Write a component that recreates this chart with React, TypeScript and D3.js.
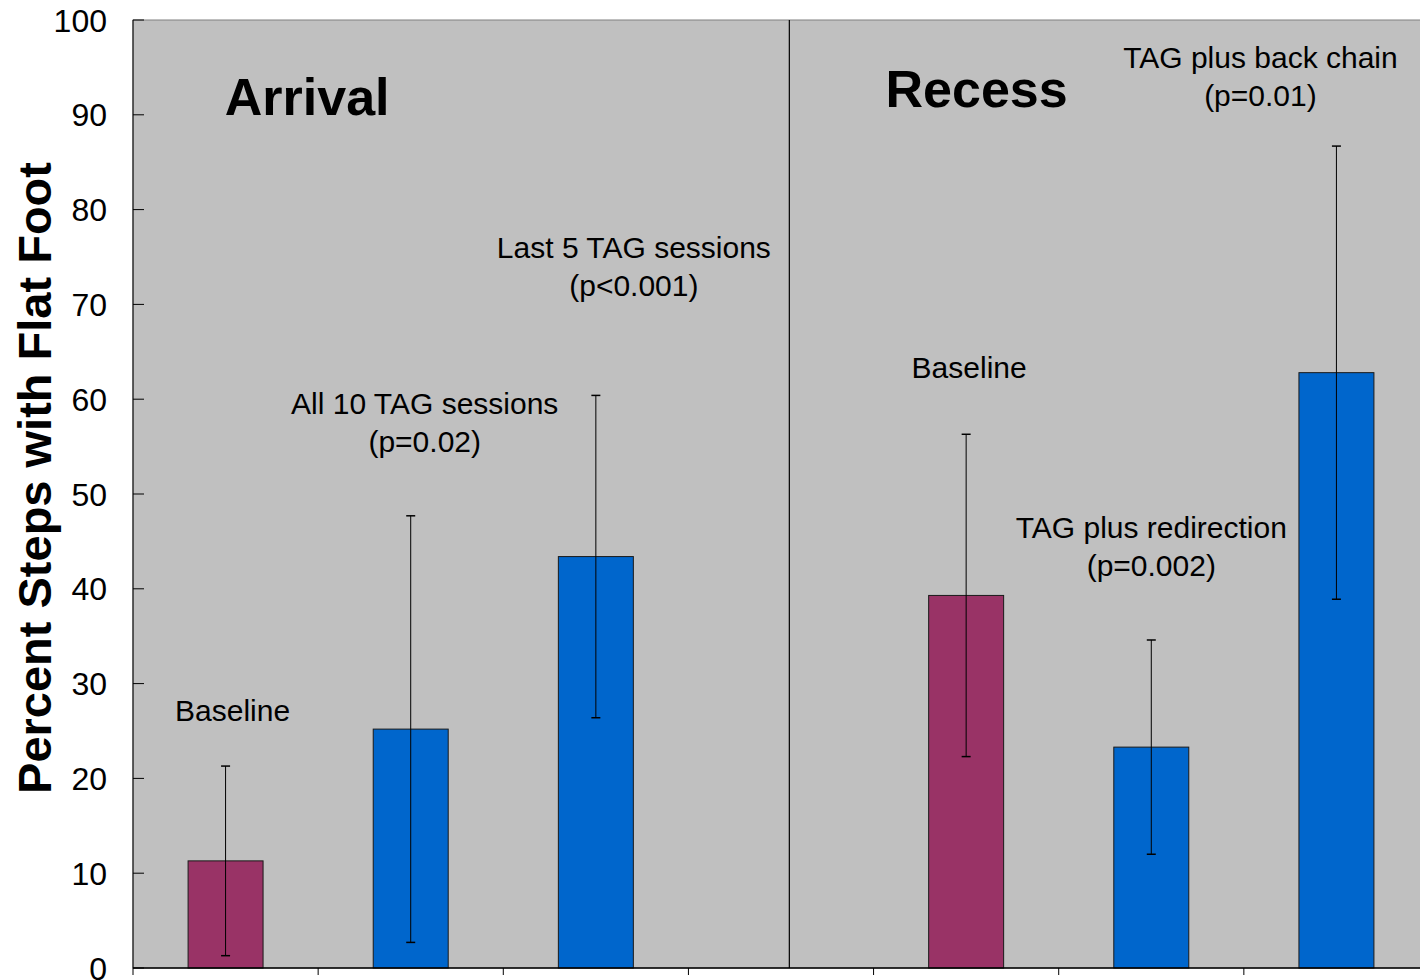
import React from "react";
import * as d3 from "d3";

const slots = ["arrBase", "arrAll10", "arrLast5", "gap", "recBase", "recRedir", "recBack"];
const barSlots = ["arrBase", "arrAll10", "arrLast5", "recBase", "recRedir", "recBack"];
const barValues = [11.3, 25.2, 43.4, 39.3, 23.3, 62.8];
const errValues = [10.0, 22.5, 17.0, 17.0, 11.3, 23.9];
const barIsBaseline = [true, false, false, true, false, false];
const yTicks = [0, 10, 20, 30, 40, 50, 60, 70, 80, 90, 100];
const labelLines = [
  ["Baseline"],
  ["All 10 TAG sessions", "(p=0.02)"],
  ["Last 5 TAG sessions", "(p<0.001)"],
  ["Baseline"],
  ["TAG plus redirection", "(p=0.002)"],
  ["TAG plus back chain", "(p=0.01)"],
];
const labelLevels = [26.05, 58.4, 74.9, 62.2, 45.4, 94.9];
const labelDx = [7, 14, 38, 3, 0, -76];
const yTitle = "Percent Steps with Flat Foot";

export default function App() {
  const left = 133, right = 1429, top = 20, bottom = 968;
  const x = d3.scaleBand<string>().domain(slots).range([left, right]).padding(0);
  const y = d3.scaleLinear().domain([0, 100]).range([bottom, top]);
  const bw = x.bandwidth() * 0.405;
  const font = "Arial, 'Liberation Sans', sans-serif";
  const dividerX = (x("gap") as number) + x.bandwidth() * 0.545;
  return (
    <svg width={1420} height={980} style={{ position: "absolute", left: 0, top: 0, background: "#fff" }} fontFamily={font}>
      <rect x={left} y={top} width={right - left} height={bottom - top} fill="#C0C0C0" stroke="#808080" strokeWidth={1} />
      <line x1={dividerX} x2={dividerX} y1={top} y2={bottom} stroke="#000" strokeWidth={1.2} />
      {barSlots.map((s, i) => {
        const cx = (x(s) as number) + x.bandwidth() / 2;
        const v = barValues[i];
        const e = errValues[i];
        return (
          <g key={s}>
            <rect x={cx - bw / 2} y={y(v)} width={bw} height={bottom - y(v)} fill={barIsBaseline[i] ? "#993366" : "#0066CC"} stroke="#1a1a1a" strokeWidth={1} />
            <line x1={cx} x2={cx} y1={y(v + e)} y2={y(v - e)} stroke="#000" strokeWidth={1} />
            <line x1={cx - 4.5} x2={cx + 4.5} y1={y(v + e)} y2={y(v + e)} stroke="#000" strokeWidth={1.5} />
            <line x1={cx - 4.5} x2={cx + 4.5} y1={y(v - e)} y2={y(v - e)} stroke="#000" strokeWidth={1.5} />
            {labelLines[i].map((t, j) => (
              <text key={j} x={cx + labelDx[i]} y={y(labelLevels[i]) + j * 38} textAnchor="middle" fontSize={30} fill="#000">{t}</text>
            ))}
          </g>
        );
      })}
      {/* axes */}
      <line x1={left} x2={left} y1={top} y2={bottom} stroke="#000" strokeWidth={1} />
      <line x1={left} x2={right} y1={bottom} y2={bottom} stroke="#000" strokeWidth={1.5} />
      {yTicks.map((t) => (
        <g key={t}>
          <line x1={left} x2={left + 11} y1={y(t)} y2={y(t)} stroke="#000" strokeWidth={1} />
          <text x={left - 26} y={y(t) + 11.5} textAnchor="end" fontSize={32} fill="#000">{t}</text>
        </g>
      ))}
      {slots.map((s) => (
        <line key={s} x1={x(s) as number} x2={x(s) as number} y1={bottom} y2={bottom + 7} stroke="#000" strokeWidth={1} />
      ))}
      <text transform={`translate(51, ${(top + bottom) / 2 - 16}) rotate(-90)`} textAnchor="middle" fontSize={47} fontWeight="bold" fill="#000">{yTitle}</text>
      <text x={(x("arrAll10") as number) - 11} y={115} textAnchor="middle" fontSize={52} fontWeight="bold" fill="#000">Arrival</text>
      <text x={(x("recBase") as number) + 103} y={107} textAnchor="middle" fontSize={52} fontWeight="bold" fill="#000">Recess</text>
    </svg>
  );
}
